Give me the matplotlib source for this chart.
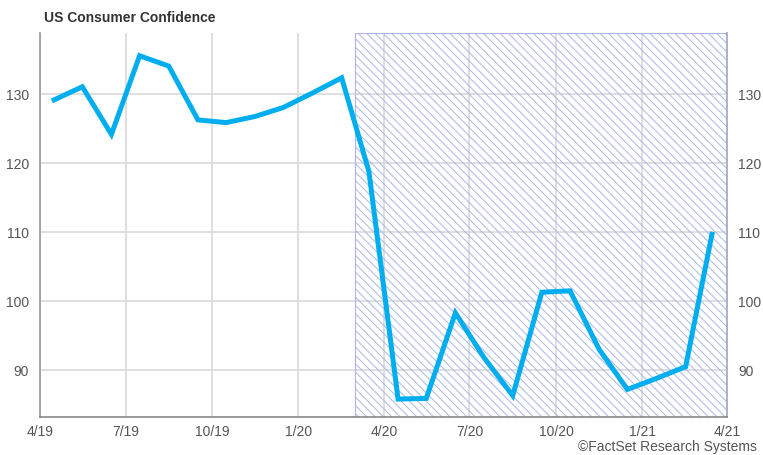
import numpy as np
import pandas as pd
import matplotlib
matplotlib.use("Agg")
import matplotlib.pyplot as plt

plt.rcParams['font.family'] = ['Liberation Sans', 'DejaVu Sans']
plt.rcParams['hatch.linewidth'] = 0.7

# data
months = ['2019-04', '2019-05', '2019-06', '2019-07', '2019-08', '2019-09',
          '2019-10', '2019-11', '2019-12', '2020-01', '2020-02', '2020-03',
          '2020-04', '2020-05', '2020-06', '2020-07', '2020-08', '2020-09',
          '2020-10', '2020-11', '2020-12', '2021-01', '2021-02', '2021-03']
confidence = [129.2, 131.1, 124.2, 135.6, 134.1, 126.3,
              125.9, 126.8, 128.1, 130.2, 132.4, 118.8,
              85.8, 85.9, 98.3, 91.9, 86.3, 101.3,
              101.5, 93.0, 87.2, 88.8, 90.5, 109.7]
shade_start = '2020-03-01'
shade_end = '2021-04-01'
tick_dates = ['2019-04-01', '2019-07-01', '2019-10-01', '2020-01-01', '2020-04-01',
              '2020-07-01', '2020-10-01', '2021-01-01', '2021-04-01']
tick_labels = ['4/19', '7/19', '10/19', '1/20', '4/20', '7/20', '10/20', '1/21', '4/21']
y_ticks = [90, 100, 110, 120, 130]

dates = pd.to_datetime(months) + pd.Timedelta(days=15)

fig = plt.figure(figsize=(7.63, 4.55), dpi=100)
ax = fig.add_axes([40/763, 38/455, 687/763, 384/455])

# recession style shading
ax.axvspan(pd.Timestamp(shade_start), pd.Timestamp(shade_end), facecolor='none',
           edgecolor='#aab5ee', hatch='\\\\\\\\', linewidth=0.8, zorder=1)

ax.plot(dates, confidence, color='#00aeef', linewidth=3.6, zorder=3,
        solid_joinstyle='miter')

ax.set_xlim(pd.Timestamp('2019-04-01'), pd.Timestamp('2021-04-01'))
ax.set_ylim(83.2, 138.9)

ax.set_xticks(pd.to_datetime(tick_dates))
ax.set_xticklabels(tick_labels)
ax.set_yticks(y_ticks)
ax.grid(True, color='#d9d9d9', linewidth=1.2, zorder=0)
ax.set_axisbelow(True)

ax.tick_params(axis='both', length=0, labelsize=10, labelcolor='#555555')
ax.tick_params(axis='x', pad=6)
ax.tick_params(axis='y', pad=8, labelright=True)

ax.spines['top'].set_visible(False)
ax.spines['left'].set_color('#999999')
ax.spines['right'].set_color('#a0a6c8')
ax.spines['bottom'].set_color('#888888')
for s in ['left', 'right', 'bottom']:
    ax.spines[s].set_linewidth(1.2)

fig.text(44/763, 1 - 18/455, 'US Consumer Confidence', fontsize=10,
         fontweight='bold', color='#333333', va='center', ha='left')
fig.text(757/763, 1 - 447/455, '\u00a9FactSet Research Systems', fontsize=10,
         color='#555555', va='center', ha='right')

fig.savefig('out.png', dpi=100)
